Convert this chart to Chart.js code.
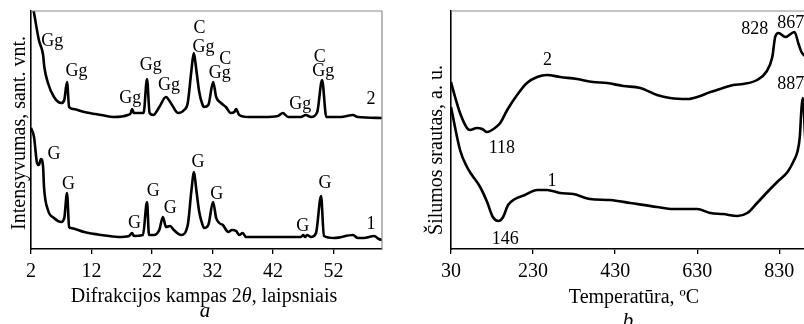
<!DOCTYPE html>
<html>
<head>
<meta charset="utf-8">
<script src="https://cdn.jsdelivr.net/npm/chart.js@4.4.1/dist/chart.umd.min.js"></script>
<style>
  html, body { margin: 0; padding: 0; background: #fff; overflow: hidden; }
  #wrap { position: relative; width: 804px; height: 324px; overflow: hidden; }
  #xrdChart { position: absolute; left: 0; top: 0; }
  #dscChart { position: absolute; left: 400px; top: 0; }
</style>
</head>
<body>
<div id="wrap">
  <canvas id="xrdChart" width="400" height="324"></canvas>
  <canvas id="dscChart" width="410" height="324"></canvas>
</div>
<script>
// --- XRD patterns (2θ, intensity in arbitrary units) ---
const xrdAngle1 = [2.0, 2.5, 3.0, 3.3, 3.65, 4.0, 4.15, 4.8, 5.8, 7.0, 7.5, 7.95, 8.3, 8.6, 10.8, 13.6, 16.4, 18.2, 18.7, 19.0, 20.5, 21.17, 21.5, 22.3, 23.2, 23.8, 24.3, 25.0, 25.6, 26.8, 27.9, 28.5, 28.94, 29.3, 29.8, 30.3, 30.6, 31.3, 32.08, 32.6, 33.1, 33.7, 34.6, 35.2, 35.9, 36.4, 37.0, 37.5, 40.5, 46.6, 47.0, 47.3, 47.6, 48.3, 49.1, 49.93, 50.4, 52.1, 55.2, 56.0, 57.0, 58.7, 59.5, 60.0];
const xrdInt1 = [121, 112, 86, 84, 90, 82, 62, 39, 31, 27, 31, 56, 22, 21, 17, 14, 12, 13, 16, 13, 14, 47, 14, 14, 19, 32, 22, 23, 19, 14, 24, 58, 77, 60, 37, 25, 21, 24, 47, 31, 26, 24, 17, 19, 18, 14, 16, 12, 12, 12, 14, 12, 14, 12, 16, 53, 13, 11, 14, 11, 11, 13, 10, 9];

const xrdAngle2 = [2.05, 2.5, 3.3, 4.0, 4.2, 4.8, 5.8, 7.0, 7.5, 7.95, 8.3, 9.0, 10.8, 13.6, 15.7, 18.0, 18.5, 18.7, 19.0, 20.6, 21.17, 21.6, 22.2, 23.2, 24.3, 25.1, 26.3, 27.3, 27.9, 28.5, 28.9, 29.3, 29.8, 30.3, 30.6, 31.3, 32.1, 32.6, 33.4, 34.2, 35.0, 35.6, 35.9, 36.4, 37.9, 40.5, 42.8, 43.6, 44.5, 46.6, 47.4, 48.3, 49.3, 50.1, 50.8, 53.2, 55.2, 56.0, 60.0];
const xrdInt2 = [250, 236, 209, 194, 182, 166, 152, 146, 149, 167, 142, 140, 137, 134, 132, 134, 136, 140, 136, 136, 170, 136, 134, 142, 152, 146, 136, 139, 146, 178, 196, 180, 157, 145, 142, 144, 167, 152, 146, 142, 136, 137, 140, 134, 132, 132, 133, 136, 132, 132, 134, 132, 137, 169, 132, 132, 134, 132, 131];

const xrdTicks = [2, 12, 22, 32, 42, 52];

// phase marks: G, Gg, C, and curve numbers
const xrdMarkText = ['Gg', 'Gg', 'Gg', 'Gg', 'Gg', 'C', 'Gg', 'C', 'Gg', 'Gg', 'C', 'Gg', '2',
                     'G', 'G', 'G', 'G', 'G', 'G', 'G', 'G', 'G', '1'];
const xrdMarkAngle = [5.5, 9.5, 18.4, 21.8, 24.8, 29.85, 30.5, 34.1, 33.2, 46.5, 49.7, 50.3, 58.2,
                      5.8, 8.2, 19.1, 22.2, 25.0, 29.6, 32.7, 46.9, 50.6, 58.2];
const xrdMarkLevel = [208, 178, 151, 184, 164, 221, 202, 190, 176, 145, 192, 178, 150,
                      95, 65, 26, 58, 41, 87, 55, 23, 66, 25];

// --- DSC curves (temperature °C, heat flow in arbitrary units) ---
const dscTemp1 = [30, 52, 69, 81, 101, 118, 132, 146, 157, 169, 186, 210, 240, 264, 296, 328, 369, 418, 467, 532, 571, 630, 662, 693, 728, 752, 776, 801, 825, 850, 865, 874, 880, 884, 887, 890, 893, 897, 900];
const dscFlow1 = [142, 99, 82, 74, 62, 47, 32, 28, 32, 44, 50, 54, 59, 59, 56, 55, 50, 49, 46, 42, 40, 40, 36, 35, 33, 36, 46, 57, 67, 77, 88, 97, 112, 140, 151, 138, 112, 99, 97];

const dscTemp2 = [30, 40, 52, 69, 76, 93, 106, 118, 137, 150, 167, 191, 215, 240, 264, 296, 337, 376, 410, 450, 491, 532, 564, 606, 630, 662, 693, 718, 742, 776, 798, 813, 820, 828, 845, 867, 877, 884, 895, 900];
const dscFlow2 = [167, 152, 136, 121, 119, 121, 120, 117, 121, 126, 139, 154, 166, 172, 174, 172, 170, 167, 166, 163, 161, 154, 151, 150, 152, 157, 161, 164, 165, 169, 177, 192, 212, 216, 212, 217, 205, 197, 192, 191];

const dscTicks = [30, 230, 430, 630, 830];

const dscMarkText = ['2', '118', '1', '146', '828', '867', '887'];
const dscMarkTemp = [265, 154, 276, 162, 770, 858, 858];
const dscMarkLevel = [189, 101, 68, 10, 220, 226, 165];

const SERIF = '"Liberation Serif", "Times New Roman", serif';
Chart.defaults.font.family = SERIF;
Chart.defaults.color = '#000';

const toPoints = (xs, ys) => xs.map((x, i) => ({ x: x, y: ys[i] }));

// text marks placed in data coordinates
const markPlugin = {
  id: 'marks',
  afterDatasetsDraw(chart, args, opts) {
    const { ctx, scales } = chart;
    ctx.save();
    ctx.font = '18px ' + SERIF;
    ctx.fillStyle = '#000';
    ctx.textAlign = 'center';
    ctx.textBaseline = 'middle';
    opts.text.forEach((t, i) => {
      ctx.fillText(t, scales.x.getPixelForValue(opts.xs[i]), scales.y.getPixelForValue(opts.ys[i]));
    });
    ctx.restore();
  }
};

// grey frame on top/right, axis titles and panel letter
const framePlugin = {
  id: 'frame',
  afterDraw(chart, args, opts) {
    const { ctx, chartArea: a } = chart;
    ctx.save();
    ctx.strokeStyle = '#8a8a8a';
    ctx.lineWidth = 1.2;
    ctx.beginPath();
    ctx.moveTo(a.left, a.top);
    ctx.lineTo(a.right, a.top);
    ctx.lineTo(a.right, a.bottom);
    ctx.stroke();

    ctx.fillStyle = '#000';
    // vertical title
    ctx.save();
    ctx.translate(opts.yTitleX, opts.yTitleY);
    ctx.rotate(-Math.PI / 2);
    ctx.font = '20px ' + SERIF;
    ctx.textAlign = 'center';
    ctx.textBaseline = 'alphabetic';
    ctx.fillText(opts.yTitle, 0, 0);
    ctx.restore();

    // horizontal title, mixed upright/italic runs
    ctx.textAlign = 'left';
    ctx.textBaseline = 'alphabetic';
    const fonts = opts.xTitle.map(p => (p.italic ? 'italic ' : '') + '20px ' + SERIF);
    const widths = opts.xTitle.map((p, i) => { ctx.font = fonts[i]; return ctx.measureText(p.text).width; });
    let x = opts.xTitleX - widths.reduce((s, w) => s + w, 0) / 2;
    opts.xTitle.forEach((p, i) => { ctx.font = fonts[i]; ctx.fillText(p.text, x, opts.xTitleY); x += widths[i]; });

    ctx.font = 'italic 21px ' + SERIF;
    ctx.textAlign = 'center';
    ctx.fillText(opts.letter, opts.letterX, opts.letterY);
    ctx.restore();
  }
};

function lineSet(points) {
  return {
    data: points,
    showLine: true,
    borderColor: '#000',
    borderWidth: 2.6,
    pointRadius: 0,
    cubicInterpolationMode: 'monotone',
    fill: false
  };
}

function baseScales(ticks, min, max, yWidth, xHeight) {
  return {
    x: {
      type: 'linear', min: min, max: max,
      afterBuildTicks: s => { s.ticks = ticks.map(v => ({ value: v })); },
      afterFit: s => { s.height = xHeight; },
      grid: { drawOnChartArea: false, drawTicks: true, tickLength: 5, color: '#000', lineWidth: 1.3 },
      border: { color: '#000', width: 1.6 },
      ticks: { font: { size: 20 }, color: '#000', padding: 6, maxRotation: 0, autoSkip: false }
    },
    y: {
      type: 'linear', min: 0, max: 238,
      afterFit: s => { s.width = yWidth; },
      grid: { display: false },
      border: { color: '#000', width: 1.6 },
      ticks: { display: false }
    }
  };
}

new Chart(document.getElementById('xrdChart'), {
  type: 'scatter',
  data: { datasets: [lineSet(toPoints(xrdAngle1, xrdInt1)), lineSet(toPoints(xrdAngle2, xrdInt2))] },
  plugins: [markPlugin, framePlugin],
  options: {
    responsive: false,
    animation: false,
    layout: { padding: { top: 11, right: 18, left: 0, bottom: 0 } },
    scales: baseScales(xrdTicks, 2, 60, 31, 75),
    plugins: {
      legend: { display: false },
      tooltip: { enabled: false },
      marks: { text: xrdMarkText, xs: xrdMarkAngle, ys: xrdMarkLevel },
      frame: {
        yTitle: 'Intensyvumas, sant. vnt.', yTitleX: 25, yTitleY: 133,
        xTitle: [{ text: 'Difrakcijos kampas 2' }, { text: 'θ', italic: true }, { text: ', laipsniais' }],
        xTitleX: 204, xTitleY: 302,
        letter: 'a', letterX: 205, letterY: 317
      }
    }
  }
});

new Chart(document.getElementById('dscChart'), {
  type: 'scatter',
  data: { datasets: [lineSet(toPoints(dscTemp1, dscFlow1)), lineSet(toPoints(dscTemp2, dscFlow2))] },
  plugins: [markPlugin, framePlugin],
  options: {
    responsive: false,
    animation: false,
    layout: { padding: { top: 11, right: 2, left: 0, bottom: 0 } },
    scales: baseScales(dscTicks, 30, 900, 51, 75),
    plugins: {
      legend: { display: false },
      tooltip: { enabled: false },
      marks: { text: dscMarkText, xs: dscMarkTemp, ys: dscMarkLevel },
      frame: {
        yTitle: 'Šilumos srautas, a. u.', yTitleX: 42, yTitleY: 150,
        xTitle: [{ text: 'Temperatūra, ºC' }],
        xTitleX: 234, xTitleY: 303,
        letter: 'b', letterX: 228, letterY: 327
      }
    }
  }
});
</script>
</body>
</html>
